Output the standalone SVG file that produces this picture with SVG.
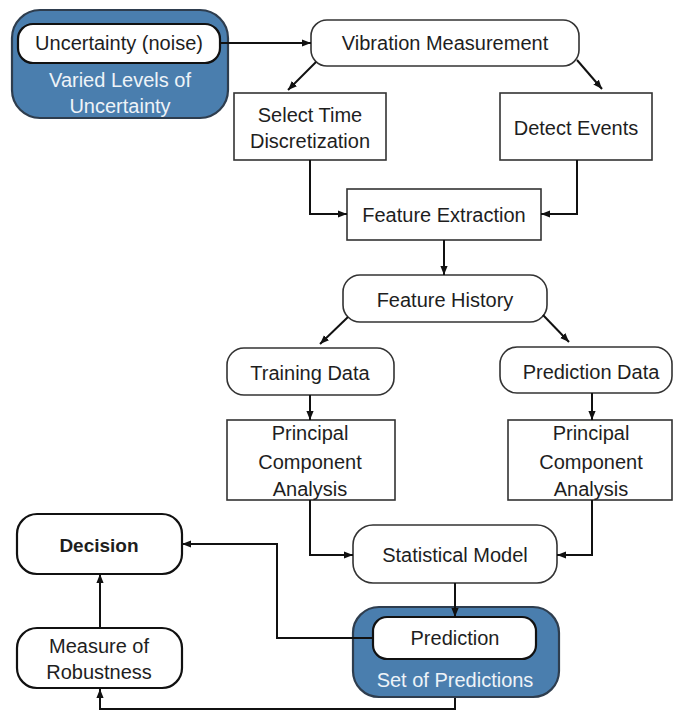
<svg xmlns="http://www.w3.org/2000/svg" width="673" height="710" viewBox="0 0 673 710">
<style>
text{font-family:"Liberation Sans",Arial,sans-serif;font-size:20px;fill:#1e1e1e;text-anchor:middle}
.box{fill:#fff;stroke:#333;stroke-width:1.6}
.bold{fill:#fff;stroke:#111;stroke-width:2.2}
.blue{fill:#4A7EAE;stroke:#2E3D4E;stroke-width:2.2}
.wt{fill:#EEF3F8}
.b{font-weight:bold;font-size:19px}
.c{fill:none;stroke:#111;stroke-width:2}
</style>
<defs>
<marker id="ah" markerUnits="userSpaceOnUse" markerWidth="9" markerHeight="9" viewBox="0 0 10 10" refX="10" refY="5" orient="auto">
<path d="M0,1 L10,5 L0,9 Z" fill="#111"/>
</marker>
</defs>
<g id="uncertainty-group">
<rect class="blue" x="12" y="10" width="216" height="108" rx="28"/>
<text class="wt" x="120" y="87">Varied Levels of</text>
<text class="wt" x="120" y="113">Uncertainty</text>
</g>
<g id="uncertainty">
<rect class="bold" x="18" y="24" width="202" height="39" rx="15"/>
<text x="119" y="50">Uncertainty (noise)</text>
</g>
<g id="vibration">
<rect class="box" x="311" y="20" width="268" height="46" rx="16"/>
<text x="445" y="50">Vibration Measurement</text>
</g>
<g id="select-time">
<rect class="box" x="234" y="93" width="152" height="67"/>
<text x="310" y="122">Select Time</text>
<text x="310" y="148">Discretization</text>
</g>
<g id="detect-events">
<rect class="box" x="500" y="93" width="152" height="67"/>
<text x="576" y="135">Detect Events</text>
</g>
<g id="feature-extraction">
<rect class="box" x="347" y="189" width="194" height="51"/>
<text x="444" y="222">Feature Extraction</text>
</g>
<g id="feature-history">
<rect class="box" x="343" y="275" width="204" height="47" rx="17"/>
<text x="445" y="307">Feature History</text>
</g>
<g id="training-data">
<rect class="box" x="227" y="348" width="167" height="47" rx="17"/>
<text x="310" y="380">Training Data</text>
</g>
<g id="prediction-data">
<rect class="box" x="500" y="347" width="172" height="46" rx="17"/>
<text x="591" y="379">Prediction Data</text>
</g>
<g id="pca-left">
<rect class="box" x="227" y="420" width="168" height="80"/>
<text x="310" y="440">Principal</text>
<text x="310" y="469">Component</text>
<text x="310" y="496">Analysis</text>
</g>
<g id="pca-right">
<rect class="box" x="508" y="420" width="164" height="80"/>
<text x="591" y="440">Principal</text>
<text x="591" y="469">Component</text>
<text x="591" y="496">Analysis</text>
</g>
<g id="statistical-model">
<rect class="box" x="353" y="525" width="204" height="58" rx="20"/>
<text x="455" y="562">Statistical Model</text>
</g>
<g id="set-of-predictions">
<rect class="blue" x="353" y="607" width="206" height="90" rx="26"/>
<text class="wt" x="455" y="687">Set of Predictions</text>
</g>
<g id="prediction">
<rect class="bold" x="373" y="617" width="163" height="42" rx="14"/>
<text x="455" y="645">Prediction</text>
</g>
<g id="decision">
<rect class="bold" x="17" y="514" width="165" height="60" rx="20"/>
<text class="b" x="99" y="552">Decision</text>
</g>
<g id="robustness">
<rect class="bold" x="17" y="628" width="165" height="60" rx="20"/>
<text x="99" y="653">Measure of</text>
<text x="99" y="679">Robustness</text>
</g>
<g id="connectors">
<line class="c" x1="221" y1="43" x2="311" y2="43" marker-end="url(#ah)"/>
<line class="c" x1="316" y1="62" x2="288" y2="90" marker-end="url(#ah)"/>
<line class="c" x1="577" y1="60" x2="602" y2="89" marker-end="url(#ah)"/>
<polyline class="c" points="310,160 310,214 347,214" marker-end="url(#ah)"/>
<polyline class="c" points="577,160 577,214 541,214" marker-end="url(#ah)"/>
<line class="c" x1="444" y1="240" x2="444" y2="275" marker-end="url(#ah)"/>
<line class="c" x1="348" y1="317" x2="320" y2="344" marker-end="url(#ah)"/>
<line class="c" x1="543" y1="315" x2="569" y2="342" marker-end="url(#ah)"/>
<line class="c" x1="310" y1="395" x2="310" y2="420" marker-end="url(#ah)"/>
<line class="c" x1="592" y1="393" x2="592" y2="420" marker-end="url(#ah)"/>
<polyline class="c" points="310,500 310,555 353,555" marker-end="url(#ah)"/>
<polyline class="c" points="592,500 592,555 557,555" marker-end="url(#ah)"/>
<line class="c" x1="455" y1="583" x2="455" y2="617" marker-end="url(#ah)"/>
<polyline class="c" points="372,638 277,638 277,544 182,544" marker-end="url(#ah)"/>
<line class="c" x1="100" y1="628" x2="100" y2="574" marker-end="url(#ah)"/>
<polyline class="c" points="455,698 455,709 100,709 100,689" marker-end="url(#ah)"/>
</g>
</svg>
